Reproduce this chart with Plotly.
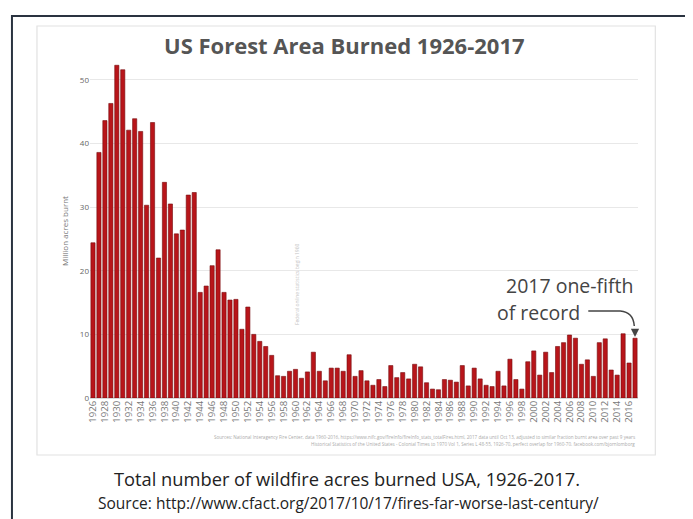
import plotly.graph_objects as go

years = list(range(1926, 2018))
acres_million = [
    24.4, 38.6, 43.6, 46.3, 52.3, 51.6, 42.1, 43.9, 41.9, 30.3,   # 1926-1935
    43.3, 22.0, 33.9, 30.5, 25.8, 26.4, 31.9, 32.3, 16.6, 17.6,   # 1936-1945
    20.8, 23.3, 16.6, 15.4, 15.5, 10.8, 14.3, 10.0, 8.9, 8.1,     # 1946-1955
    6.7, 3.5, 3.4, 4.2, 4.5, 3.1, 4.1, 7.2, 4.2, 2.7,             # 1956-1965
    4.7, 4.7, 4.2, 6.8, 3.4, 4.3, 2.7, 2.0, 2.9, 1.8,             # 1966-1975
    5.1, 3.2, 4.0, 3.0, 5.3, 4.9, 2.4, 1.4, 1.3, 2.9,             # 1976-1985
    2.8, 2.5, 5.1, 1.9, 4.7, 3.0, 2.0, 1.8, 4.2, 1.9,             # 1986-1995
    6.1, 2.9, 1.4, 5.7, 7.4, 3.6, 7.2, 4.0, 8.1, 8.7,             # 1996-2005
    9.9, 9.4, 5.3, 6.0, 3.4, 8.7, 9.3, 4.4, 3.6, 10.1,            # 2006-2015
    5.5, 9.4,                                                     # 2016-2017
]
tick_years = list(range(1926, 2017, 2))
y_ticks = [0, 10, 20, 30, 40, 50]

OFF = 8  # default page body margin
W, H = 693 - OFF, 519 - OFF
# plot area in screen pixels: x 90..637.7, y 64..398
SX0, SX1, SY0, SY1 = 90, 637.7, 64, 398
L, R = SX0 - OFF, W - (SX1 - OFF)
T, B = SY0 - OFF, H - (SY1 - OFF)
PW, PH = SX1 - SX0, SY1 - SY0


def px(x):
    return (x - SX0) / PW


def py(y):
    return (SY1 - y) / PH


def note(text, x, y, size, color, xanchor="center", **kw):
    d = dict(text=text, xref="paper", yref="paper", x=px(x), y=py(y),
             xanchor=xanchor, yanchor="middle", showarrow=False,
             font=dict(size=size, color=color, family="Open Sans, sans-serif"))
    d.update(kw)
    return d


fig = go.Figure()
fig.add_trace(go.Bar(
    x=years, y=acres_million,
    marker=dict(color="#b8151a", line=dict(color="#760b0d", width=0.6)),
    hoverinfo="x+y",
))

fig.update_layout(
    width=W, height=H,
    margin=dict(l=L, r=R, t=T, b=B, autoexpand=False),
    paper_bgcolor="white", plot_bgcolor="white",
    bargap=0.3,
    showlegend=False,
    font=dict(family="Open Sans, sans-serif", color="#666"),
    xaxis=dict(
        range=[1925.5, 2017.5],
        tickmode="array", tickvals=tick_years,
        ticktext=[str(y) for y in tick_years],
        tickangle=-90, tickfont=dict(size=9.5, color="#777"),
        showgrid=False, zeroline=False, showline=False, ticks="",
    ),
    yaxis=dict(
        range=[0, 52.5],
        tickmode="array", tickvals=y_ticks,
        tickfont=dict(size=8, color="#666"),
        gridcolor="#e8e8e8", gridwidth=1,
        zeroline=True, zerolinecolor="#d8d8d8",
        showline=False, ticks="",
        title=dict(text="Million acres burnt", font=dict(size=8, color="#777"), standoff=10),
    ),
)

shapes = [
    # outer dark frame
    dict(type="rect", xref="paper", yref="paper",
         x0=px(12), x1=px(689), y0=py(540), y1=py(16),
         line=dict(color="#2a3340", width=2), fillcolor="rgba(0,0,0,0)", layer="below"),
    # inner light panel
    dict(type="rect", xref="paper", yref="paper",
         x0=px(37), x1=px(655), y0=py(455), y1=py(26),
         line=dict(color="#e2e2e2", width=1.2), fillcolor="rgba(0,0,0,0)", layer="below"),
    # curved arrow line
    dict(type="path", xref="paper", yref="paper",
         path=f"M {px(588)} {py(311)} L {px(620)} {py(311)} Q {px(633)} {py(312)} {px(634)} {py(326)}",
         line=dict(color="#444", width=1.5)),
]
fig.update_layout(shapes=shapes)

ann = [
    note("<b>US Forest Area Burned 1926-2017</b>", 344, 45, 22, "#555"),
    note("2017 one-fifth", 636, 285, 19.5, "#444", xanchor="right"),
    note("of record", 582, 312, 19.5, "#444", xanchor="right"),
    dict(x=2017, y=acres_million[-1] + 0.2, xref="x", yref="y", ax=0, ay=-8,
         text="", showarrow=True, arrowhead=2, arrowsize=1.1, arrowwidth=1.5, arrowcolor="#444"),
    note("Federal online statistics begin 1960", 297, 284, 5, "#c4c4c4", textangle=-90),
    note("Sources: National Interagency Fire Center, data 1960-2016, https://www.nifc.gov/fireInfo/fireInfo_stats_totalFires.html, 2017 data until Oct 13, adjusted to similar fraction burnt area over past 9 years",
         637, 437, 4.6, "#aaa", xanchor="right"),
    note("Historical Statistics of the United States - Colonial Times to 1970 Vol 1, Series L 48-55, 1926-70, perfect overlap for 1960-70. facebook.com/bjornlomborg",
         637, 444, 4.6, "#aaa", xanchor="right"),
    note("Total number of wildfire acres burned USA, 1926-2017.", 347, 478, 18.3, "#222"),
    note("Source: http://www.cfact.org/2017/10/17/fires-far-worse-last-century/", 348, 503, 15.5, "#222"),
]
fig.update_layout(annotations=ann)

fig.write_html("out.html")
